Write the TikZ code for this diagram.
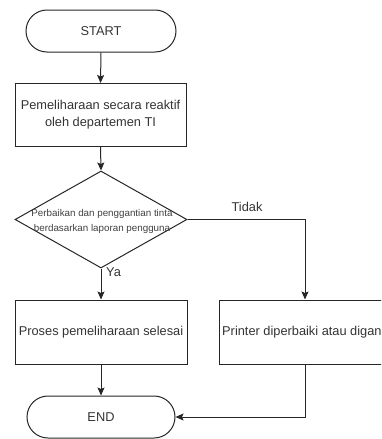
\documentclass[tikz,border=0pt]{standalone}
\usepackage{fontspec}
\setmainfont{Liberation Sans}
\usetikzlibrary{shapes.geometric,arrows.meta}
\tikzset{
  base/.style={draw=black!85, line width=1pt, inner sep=0pt, align=center, font=\fontsize{12.8}{17}\selectfont, text=black!80},
  term/.style={base, rounded corners=21pt, minimum height=42pt},
  proc/.style={base, rectangle, minimum width=171pt, minimum height=63pt},
  dec/.style={base, diamond, minimum width=172pt, minimum height=97pt},
  conn/.style={draw=black!85, line width=1pt, -{Stealth[length=8pt,width=7pt,inset=1.5pt]}},
  lbl/.style={font=\fontsize{12.8}{15}\selectfont, text=black!80, inner sep=0pt}
}
\begin{document}
\begin{tikzpicture}[x=1pt,y=-1pt]
\useasboundingbox (0,0) rectangle (381,439);
\clip (0,0) rectangle (381,439);
\node[term, minimum width=150pt] (start) at (101,31) {START};
\node[proc] (p1) at (100.5,115) {Pemeliharaan secara reaktif\\oleh departemen TI};
\node[dec] (d) at (101,219.5) {};
\node[inner sep=0pt, align=center, font=\fontsize{9.8}{15}\selectfont, text=black!75] (dtext) at (102,221) {Perbaikan dan penggantian tinta\\berdasarkan laporan pengguna};
\node[proc, minimum width=172pt, minimum height=64pt] (p2) at (101,332) {Proses pemeliharaan selesai};
\node[proc, minimum width=172pt, minimum height=64pt] (p3) at (305,332) {};
\node[lbl, anchor=west, font=\fontsize{12.8}{15}\selectfont] (p3text) at (222,332) {Printer diperbaiki atau digan};
\node[term, minimum width=148pt] (end) at (101,417) {END};
\draw[conn] (start.south) -- (p1.north);
\draw[conn] (p1.south) -- (d.north);
\draw[conn] (d.east) -| (p3.north);
\draw[conn] (d.south) -- (p2.north);
\draw[conn] (p2.south) -- (end.north);
\draw[conn] (p3.south) |- (end.east);
\node[lbl, anchor=west] (ya) at (106,272) {Ya};
\node[lbl] (tidak) at (247,207) {Tidak};
\end{tikzpicture}
\end{document}
